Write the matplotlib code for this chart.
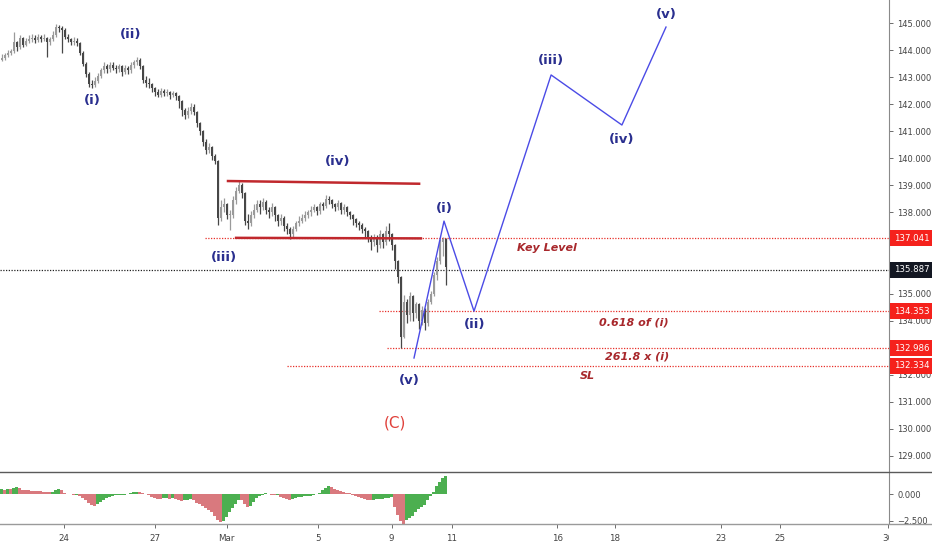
import matplotlib
matplotlib.use('Agg')
import matplotlib.pyplot as plt
import matplotlib.transforms as mtransforms
from matplotlib.lines import Line2D
from matplotlib.patches import Rectangle
import numpy as np

# Цены (часовые свечи)
close = [143.72, 143.80, 143.90, 143.95, 144.30, 144.10, 144.45, 144.20, 144.35, 144.40,
         144.45, 144.38, 144.50, 144.42, 144.46, 144.30, 144.40, 144.55, 144.85, 144.80,
         144.75, 144.50, 144.40, 144.30, 144.35, 144.25, 143.90, 143.50, 143.10, 142.75,
         142.70, 142.85, 143.05, 143.25, 143.40, 143.30, 143.45, 143.35, 143.30, 143.40,
         143.20, 143.35, 143.25, 143.45, 143.55, 143.65, 143.40, 142.90, 142.80, 142.75,
         142.60, 142.45, 142.35, 142.50, 142.40, 142.45, 142.35, 142.40, 142.30, 142.10,
         141.80, 141.60, 141.75, 141.90, 141.70, 141.30, 141.00, 140.60, 140.30, 140.40,
         140.10, 139.90, 137.80, 138.20, 138.30, 137.90, 137.90, 138.45, 138.80, 139.00,
         138.70, 137.70, 137.60, 137.90, 138.10, 138.30, 138.20, 138.40, 138.10, 138.00,
         138.20, 137.90, 137.70, 137.80, 137.50, 137.40, 137.20, 137.40, 137.60, 137.70,
         137.80, 137.90, 138.00, 138.10, 138.20, 138.05, 138.30, 138.25, 138.50, 138.45,
         138.30, 138.20, 138.35, 138.10, 138.20, 138.00, 137.90, 137.75, 137.60, 137.55,
         137.40, 137.30, 137.10, 136.90, 137.10, 136.80, 137.20, 136.90, 137.30, 137.20,
         136.80, 136.20, 135.60, 133.40, 134.70, 134.20, 134.90, 134.30, 134.60, 134.00,
         134.40, 133.90, 134.70, 135.00, 135.70, 136.20, 136.90, 137.00, 136.00]
high = [143.85, 143.90, 144.00, 144.05, 144.65, 144.35, 144.55, 144.50, 144.45, 144.55,
        144.60, 144.55, 144.60, 144.55, 144.58, 144.50, 144.50, 144.70, 144.95, 144.92,
        144.90, 144.80, 144.60, 144.45, 144.50, 144.45, 144.30, 143.95, 143.55, 143.20,
        142.90, 143.00, 143.15, 143.35, 143.55, 143.50, 143.55, 143.55, 143.45, 143.50,
        143.45, 143.45, 143.40, 143.55, 143.65, 143.75, 143.70, 143.45, 143.05, 142.95,
        142.80, 142.65, 142.55, 142.60, 142.55, 142.55, 142.50, 142.50, 142.45, 142.35,
        142.15, 141.85, 141.90, 142.05, 142.00, 141.75, 141.35, 141.05, 140.70, 140.55,
        140.45, 140.15, 139.95, 138.45, 138.55, 138.35, 138.10, 138.60, 138.95, 139.15,
        139.10, 138.75, 137.95, 138.05, 138.30, 138.45, 138.45, 138.55, 138.45, 138.20,
        138.35, 138.25, 137.95, 137.95, 137.85, 137.60, 137.45, 137.50, 137.70, 137.85,
        137.95, 138.05, 138.10, 138.25, 138.30, 138.25, 138.40, 138.40, 138.65, 138.60,
        138.50, 138.35, 138.45, 138.40, 138.30, 138.25, 138.05, 137.95, 137.80, 137.70,
        137.60, 137.45, 137.35, 137.15, 137.20, 137.15, 137.35, 137.25, 137.50, 137.60,
        137.25, 136.85, 136.25, 135.65, 134.95, 134.80, 135.05, 134.95, 134.70, 134.65,
        134.55, 134.45, 134.80, 135.10, 135.80, 136.35, 137.00, 137.10, 137.05]
low = [143.60, 143.65, 143.75, 143.80, 143.90, 143.95, 144.05, 144.10, 144.15, 144.25,
       144.30, 144.25, 144.30, 144.30, 144.32, 143.75, 144.20, 144.35, 144.50, 144.65,
       143.90, 144.40, 144.30, 144.20, 144.20, 144.15, 143.80, 143.40, 143.00, 142.65,
       142.60, 142.65, 142.80, 142.95, 143.15, 143.15, 143.20, 143.25, 143.15, 143.20,
       143.05, 143.10, 143.10, 143.15, 143.35, 143.45, 143.30, 142.80, 142.65, 142.60,
       142.45, 142.30, 142.25, 142.25, 142.30, 142.30, 142.20, 142.25, 142.15, 141.85,
       141.55, 141.45, 141.50, 141.65, 141.60, 141.15, 140.85, 140.45, 140.15, 140.20,
       139.95, 139.80, 137.55, 137.70, 138.00, 137.75, 137.35, 137.80, 138.30, 138.70,
       138.55, 137.55, 137.40, 137.50, 137.80, 138.00, 137.95, 138.10, 137.95, 137.80,
       137.85, 137.70, 137.50, 137.55, 137.30, 137.20, 137.00, 137.10, 137.30, 137.50,
       137.60, 137.70, 137.80, 137.85, 138.00, 137.90, 137.95, 138.10, 138.15, 138.30,
       138.15, 138.05, 138.10, 137.95, 137.95, 137.85, 137.75, 137.55, 137.45, 137.35,
       137.25, 137.10, 136.90, 136.60, 136.75, 136.55, 136.70, 136.70, 136.80, 136.95,
       136.60, 135.90, 135.40, 133.00, 133.35, 133.90, 134.00, 134.00, 134.10, 133.70,
       133.85, 133.65, 133.80, 134.60, 134.90, 135.50, 136.10, 136.40, 135.30]
first_open = 143.65

# Осциллятор
osc = [0.45, 0.40, 0.50, 0.45, 0.55, 0.62, 0.55,
       0.40, 0.38, 0.35, 0.32, 0.30, 0.28, 0.25, 0.22, 0.20, 0.18,
       0.22, 0.35, 0.45, 0.40, 0.05, -0.02, -0.03, -0.05, -0.05,
       -0.20, -0.40, -0.60, -0.85, -1.05, -1.15, -0.95, -0.75, -0.55, -0.40, -0.25, -0.15,
       -0.10, -0.08, -0.05, -0.05, 0.0, 0.05, 0.15, 0.20, 0.18, 0.08, 0.02, -0.05,
       -0.25, -0.35, -0.45, -0.50, -0.40, -0.40, -0.45, -0.40, -0.45, -0.55,
       -0.65, -0.60, -0.55, -0.50, -0.60, -0.80, -0.90, -1.10, -1.30, -1.50, -1.70,
       -2.00, -2.40, -2.60, -2.50, -2.10, -1.70, -1.30, -0.90, -0.55, -0.60,
       -0.95, -1.25, -1.10, -0.70, -0.40, -0.20, -0.05, 0.05, 0.00, -0.05, -0.10, -0.05,
       -0.25, -0.35, -0.50, -0.55, -0.45, -0.40, -0.30, -0.25, -0.20, -0.20, -0.15, -0.10,
       -0.02, 0.10, 0.35, 0.60, 0.75, 0.65, 0.50, 0.35, 0.25, 0.18, 0.10,
       0.05, -0.05, -0.15, -0.25, -0.40, -0.50, -0.55, -0.60, -0.55, -0.50,
       -0.50, -0.45, -0.40, -0.35, -0.30, -1.20, -1.90, -2.50, -2.75,
       -2.40, -2.20, -2.00, -1.70, -1.40, -1.20, -1.00, -0.60, -0.20,
       0.20, 0.70, 1.10, 1.50, 1.70]

# Ось дат (в барах)
date_ticks = [20.7, 51.0, 75.0, 105.5, 130.0, 150.0, 185.2, 204.5, 239.8, 259.5, 295.4]
date_labels = ['24', '27', 'Mar', '5', '9', '11', '16', '18', '23', '25', '30']

# Шкала цен (133, 136, 137 закрыты метками уровней)
price_ticks = list(range(129, 146))
price_hidden = [133, 136, 137]

# Уровни
levels = [137.041, 134.353, 132.986, 132.334]
level_start = [67.8, 125.8, 128.5, 95.2]
last_price = 135.887

# Канал (iv)
chan_top_x, chan_top_y = [75.5, 139.2], [139.16, 139.06]
chan_bot_x, chan_bot_y = [78.2, 139.8], [137.06, 137.04]

# Прогноз волн
proj_x = [137.5, 147.5, 157.5, 183.2, 206.8, 221.5]
proj_y = [132.62, 137.68, 134.35, 143.08, 141.23, 144.85]

wave_text = ['(i)', '(ii)', '(iii)', '(iv)', '(v)', '(i)', '(ii)', '(iii)', '(iv)', '(v)']
wave_x = [30.2, 43.2, 74.2, 112.2, 135.8, 147.5, 157.8, 183.2, 206.8, 221.5]
wave_y = [142.12, 144.59, 136.35, 139.9, 131.77, 138.16, 133.84, 143.6, 140.71, 145.3]

note_text = ['Key Level', '0.618 of (i)', '261.8 x (i)', 'SL']
note_x = [181.8, 210.8, 211.8, 195.2]
note_y = [136.69, 133.95, 132.66, 131.95]

plt.rcParams['font.family'] = ['DejaVu Sans']

W, H = 932, 550
fig = plt.figure(figsize=(W / 100, H / 100), dpi=100)
fig.patch.set_facecolor('white')
ax = fig.add_axes([0, 1 - 471 / H, 889 / W, 471 / H])
ax2 = fig.add_axes([0, 1 - 524 / H, 889 / W, 52 / H])

n = len(close)
x = np.arange(n)
c = np.array(close)
o = np.array([first_open] + close[:-1])
up = c >= o
cols = np.where(up, '#9a9a9a', '#474747')

# Свечи
ax.vlines(x, low, high, colors=cols, lw=0.9, zorder=3)
body = np.maximum(np.abs(c - o), 0.04)
ax.bar(x, body, bottom=np.minimum(o, c), width=0.6, color=cols, zorder=3)

xmax = 295.83
# Пунктирные уровни
for lv, xs in zip(levels, level_start):
    ax.plot([xs, xmax], [lv, lv], color='#e8302a', lw=0.9, ls=(0, (1, 1.2)), zorder=2)
ax.plot([-0.5, xmax], [last_price, last_price], color='#222222', lw=0.9, ls=(0, (1, 1.2)), zorder=2)

# Канал
ax.plot(chan_top_x, chan_top_y, color='#c0282d', lw=1.8, zorder=4)
ax.plot(chan_bot_x, chan_bot_y, color='#c0282d', lw=1.8, zorder=4)

# Прогноз
ax.plot(proj_x, proj_y, color='#4b4be6', lw=1.0, zorder=5)

for t, wx, wy in zip(wave_text, wave_x, wave_y):
    ax.text(wx, wy, t, color='#2a2f8f', fontsize=9.5, fontweight='bold',
            ha='center', va='center', zorder=6)
ax.text(131.2, 130.22, '(C)', color='#e0403a', fontsize=11, ha='center', va='center', zorder=6)

for t, nx, ny in zip(note_text, note_x, note_y):
    ax.text(nx, ny, t, color='#a8282c', fontsize=8, fontweight='bold', fontstyle='italic',
            ha='center', va='center', zorder=6)

ax.set_xlim(-0.5, xmax)
ax.set_ylim(128.444, 145.85)
ax.yaxis.tick_right()
ax.set_yticks(price_ticks)
ax.set_yticklabels(['' if v in price_hidden else f'{v:.3f}' for v in price_ticks])
ax.tick_params(axis='y', labelsize=6, colors='#555555', length=3, width=0.6, pad=3)
ax.tick_params(axis='y', labelcolor='#444444')
ax.set_xticks([])
for s in ['top', 'left', 'bottom']:
    ax.spines[s].set_visible(False)
ax.spines['right'].set_color('#8a8a8a')
ax.spines['right'].set_linewidth(0.8)

# Метки цен справа
tr = mtransforms.blended_transform_factory(ax.transAxes, ax.transData)
box_h = 16 / 27.06
box_w = (W - 890) / 889
for lv, fc in zip(levels + [last_price], ['#f5211c'] * len(levels) + ['#131722']):
    ax.add_patch(Rectangle((1.0015, lv - box_h / 2), box_w, box_h, transform=tr,
                           fc=fc, ec='none', zorder=9, clip_on=False))
    ax.text(1.0015 + box_w / 2, lv, f'{lv:.3f}', transform=tr, color='white', fontsize=6.2,
            ha='center', va='center', zorder=10, clip_on=False)

# Осциллятор
ov = np.array(osc)
rising = np.concatenate([[True], ov[1:] >= ov[:-1]])
ocols = np.where(rising, '#4caf50', '#d9797e')
ax2.bar(x, ov, width=0.72, color=ocols, zorder=3)
ax2.set_xlim(-0.5, xmax)
ax2.set_ylim(-2.78, 2.04)
ax2.yaxis.tick_right()
ax2.set_yticks([0, -2.5])
ax2.set_yticklabels(['0.000', '\u22122.500'])
ax2.tick_params(axis='y', labelsize=6, colors='#555555', length=3, width=0.6, pad=3)
ax2.tick_params(axis='y', labelcolor='#444444')
ax2.set_xticks(date_ticks)
ax2.set_xticklabels(date_labels)
ax2.tick_params(axis='x', labelsize=6.3, colors='#555555', length=3, width=0.6, pad=4)
ax2.tick_params(axis='x', labelcolor='#444444')
for s in ['top', 'left', 'bottom']:
    ax2.spines[s].set_visible(False)
ax2.spines['right'].set_color('#8a8a8a')
ax2.spines['right'].set_linewidth(0.8)

clip = mtransforms.TransformedBbox(mtransforms.Bbox([[0, 0], [889 / W, 1]]), fig.transFigure)
for lbl in ax2.get_xticklabels():
    lbl.set_clip_box(clip)
    lbl.set_clip_on(True)

# Разделители панелей
fig.add_artist(Line2D([0, 1], [1 - 471.5 / H] * 2, transform=fig.transFigure, color='#5a5a5a', lw=1.0))
fig.add_artist(Line2D([0, 1], [1 - 524 / H] * 2, transform=fig.transFigure, color='#9a9a9a', lw=1.0))

fig.savefig('out.png', dpi=100)
